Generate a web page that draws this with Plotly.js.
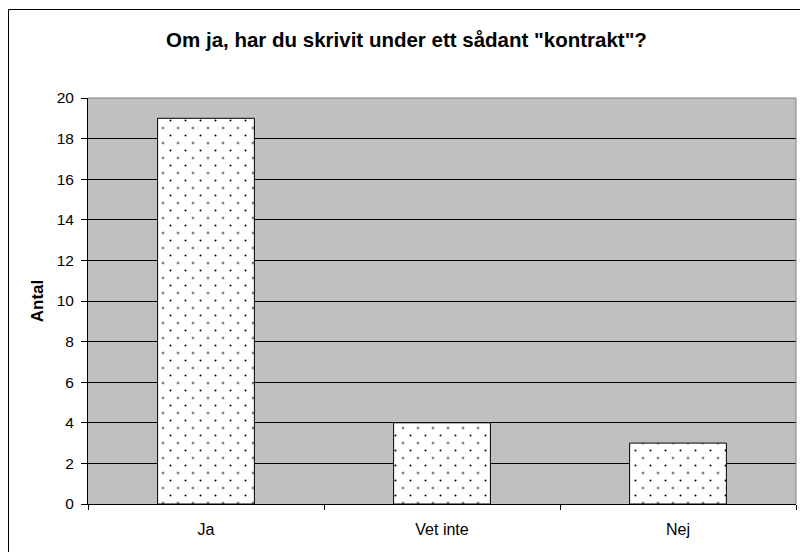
<!DOCTYPE html>
<html>
<head>
<meta charset="utf-8">
<script src="https://cdn.plot.ly/plotly-3.0.1.min.js"></script>
<style>
html,body{margin:0;padding:0;background:#fff;}
#chart{width:800px;height:552px;}
</style>
</head>
<body>
<div id="chart"></div>
<script>
const categories = ["Ja", "Vet inte", "Nej"];
const values = [19, 4, 3];
const yTicks = [0, 2, 4, 6, 8, 10, 12, 14, 16, 18, 20];
const yMax = 20;

const L = 88, R = 4, T = 98, B = 48, W = 800, H = 552;
const pw = W - L - R, ph = H - T - B;
const px = v => (v - L) / pw;
const py = v => (H - B - v) / ph;

// half-tile offset so that the two dot layers form a staggered dot pattern
const tile = 15, half = tile / 2;
const dx = half / pw, dy = half / ph;
const nCat = categories.length;

const barBase = {
  type: "bar",
  x: categories,
  y: values,
  width: 0.41,
  hoverinfo: "skip"
};

const trace1 = Object.assign({}, barBase, {
  marker: {
    color: "#ffffff",
    line: {color: "#000000", width: 1},
    pattern: {shape: ".", fgcolor: "#000000", bgcolor: "#ffffff", size: tile, solidity: 0.014}
  }
});

const trace2 = Object.assign({}, barBase, {
  xaxis: "x2", yaxis: "y2",
  marker: {
    color: "rgba(0,0,0,0)",
    line: {color: "rgba(0,0,0,0)", width: 0},
    pattern: {shape: ".", fgcolor: "#000000", bgcolor: "rgba(0,0,0,0)", size: tile, solidity: 0.014}
  }
});

const hiddenAxis = {
  showgrid: false, zeroline: false, showline: false, showticklabels: false,
  ticks: "", fixedrange: true
};

const layout = {
  width: W, height: H,
  margin: {l: L, r: R, t: T, b: B, pad: 0},
  paper_bgcolor: "#ffffff",
  plot_bgcolor: "rgba(0,0,0,0)",
  showlegend: false,
  barmode: "overlay",
  font: {family: "Liberation Sans, Arial, sans-serif", color: "#000000", size: 15},
  title: {
    text: "<b>Om ja, har du skrivit under ett sådant \"kontrakt\"?</b>",
    font: {size: 20.5, family: "Liberation Sans, Arial, sans-serif", color: "#000"},
    x: 406.5 / W, xanchor: "center", xref: "container",
    y: 1 - 39.5 / H, yanchor: "middle", yref: "container"
  },
  xaxis: {
    type: "category",
    domain: [0, 1],
    range: [-0.5, nCat - 0.5],
    showgrid: false,
    zeroline: false,
    showline: true, linecolor: "#000", linewidth: 1,
    ticks: "outside", tickson: "boundaries", ticklen: 5, tickcolor: "#000", tickwidth: 1,
    tickfont: {size: 16},
    ticklabelstandoff: 11,
    fixedrange: true
  },
  yaxis: {
    domain: [0, 1],
    range: [0, yMax],
    tickvals: yTicks,
    showgrid: true, gridcolor: "#000", gridwidth: 1,
    zeroline: false,
    showline: true, linecolor: "#000", linewidth: 1,
    ticks: "outside", ticklen: 6, tickcolor: "#000", tickwidth: 1,
    tickfont: {size: 15.5},
    ticklabelstandoff: 4,
    title: {text: "<b>Antal</b>", font: {size: 17}, standoff: 8},
    fixedrange: true
  },
  xaxis2: Object.assign({}, hiddenAxis, {
    type: "category",
    anchor: "y2",
    domain: [dx, 1],
    range: [-0.5 + nCat * dx, nCat - 0.5]
  }),
  yaxis2: Object.assign({}, hiddenAxis, {
    anchor: "x2",
    domain: [0, 1 - dy],
    range: [0, yMax * (1 - dy)]
  }),
  shapes: [
    {type: "rect", xref: "paper", yref: "paper", x0: 0, x1: 1, y0: 0, y1: 1,
     line: {width: 0}, fillcolor: "#c0c0c0", layer: "below"},
    {type: "line", xref: "paper", yref: "paper", x0: 0, x1: 1, y0: 1, y1: 1,
     line: {color: "#808080", width: 1}, layer: "above"},
    {type: "line", xref: "paper", yref: "paper", x0: 1, x1: 1, y0: 0, y1: 1,
     line: {color: "#808080", width: 1}, layer: "above"},
    {type: "rect", xref: "paper", yref: "paper",
     x0: px(8.5), x1: px(812), y0: py(9.5), y1: py(570),
     line: {color: "#000", width: 1}, fillcolor: "rgba(0,0,0,0)", layer: "above"}
  ]
};

Plotly.newPlot("chart", [trace1, trace2], layout, {displayModeBar: false, staticPlot: true});
</script>
</body>
</html>
